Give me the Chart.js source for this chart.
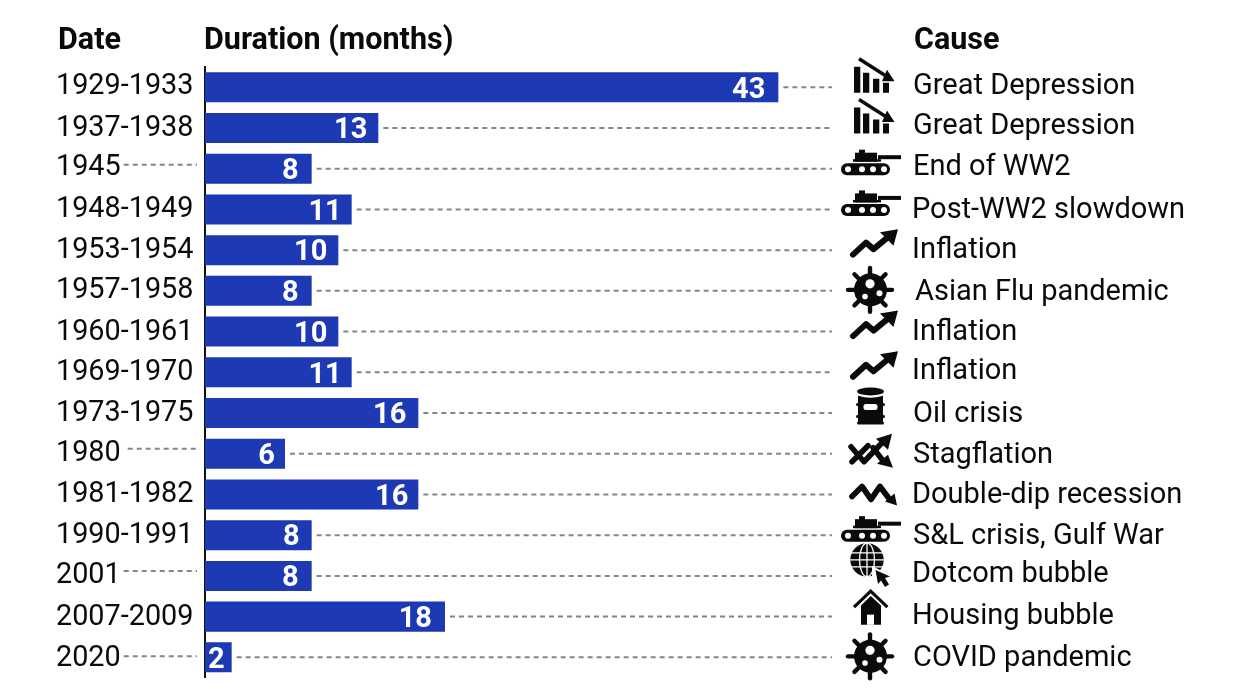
<!DOCTYPE html>
<html><head><meta charset="utf-8">
<style>html,body{margin:0;padding:0;background:#fff}canvas{display:block}</style>
<script src="https://cdn.jsdelivr.net/npm/chart.js@4"></script>
</head><body><canvas id="c" width="1245" height="700"></canvas>
<script>
const dates=["1929-1933","1937-1938","1945","1948-1949","1953-1954","1957-1958","1960-1961","1969-1970","1973-1975","1980","1981-1982","1990-1991","2001","2007-2009","2020"];
const durations=[43,13,8,11,10,8,10,11,16,6,16,8,8,18,2];
const causes=["Great Depression","Great Depression","End of WW2","Post-WW2 slowdown","Inflation","Asian Flu pandemic","Inflation","Inflation","Oil crisis","Stagflation","Double-dip recession","S&L crisis, Gulf War","Dotcom bubble","Housing bubble","COVID pandemic"];
const icons=["bars","bars","tank","tank","trend","virus","trend","trend","barrel","stag","dip","tank","globe","house","virus"];
// small per-row text nudges, in px relative to the row centre
const dateNudge=[0,1,-1,0,1,0,1,1,1,0,0,1,0,1,1];
const causeNudge=[-1,-1,-1,1,1,2,1,-1,2,2,1,2,-1,0,1];
const causeShift=[0,0,0,-1,-1,2,-1,-1,0,0,-1,0,-1,-1,0];
const valueInset=[13,11,13,10,11,13,11,10,12,10,10,12,13,13,7];
// rows whose short date carries its own dashed leader: row -> [gap after the text, px from row centre]
const dateLeaders={2:[3,-4],9:[7,-5],12:[3,-5],14:[3,-1]};

const FONT='Roboto, sans-serif', INK='#0a0a0a', BLUE='#1d39b4', DASH='#858585';

function poly(c,pts,close){c.beginPath();pts.forEach((p,i)=>i?c.lineTo(p[0],p[1]):c.moveTo(p[0],p[1]));if(close)c.closePath();}
function line(c,pts,w){poly(c,pts);c.lineWidth=w;c.lineCap='round';c.lineJoin='round';c.stroke();}
function tri(c,pts){poly(c,pts,true);c.fill();}
function rr(c,x,y,w,h,r){c.beginPath();c.roundRect(x,y,w,h,r);c.fill();}
function disc(c,x,y,r){c.beginPath();c.arc(x,y,r,0,Math.PI*2);c.fill();}
// icons are drawn around (0,0) = (icon column, row centre)
const glyphs={
 bars(c){
  c.fillRect(-16,-20.5,6.3,26);c.fillRect(-7,-14.5,6.3,20);c.fillRect(3,-8.5,6.3,14);c.fillRect(13,-4.5,6,10);
  c.lineCap='butt';c.lineWidth=3.4;poly(c,[[-11,-28.5],[18,-10]]);c.stroke();
  tri(c,[[24.5,-6],[17,-17.5],[12,-6]]);
 },
 tank(c){
  rr(c,-29,-5.5,49,12,6);
  c.fillRect(-15,-16,22,9);c.fillRect(-11,-19,6,4);c.fillRect(-17,-9.5,28,2.5);c.fillRect(8,-13.5,23,4);
  c.fillStyle='#fff';[-22,-8,3,14].forEach(x=>disc(c,x,.5,3));c.fillStyle=INK;
 },
 trend(c){
  line(c,[[-17,4.5],[-4,-7.5],[3.5,-1],[18,-13]],6);
  tri(c,[[28,-21],[10,-18],[23.5,-4.5]]);
 },
 virus(c){
  const cy=-1;c.lineCap='round';c.lineWidth=4.4;
  for(let k=0;k<8;k++){const a=k*Math.PI/4;c.beginPath();c.moveTo(Math.cos(a)*14,cy+Math.sin(a)*14);c.lineTo(Math.cos(a)*22,cy+Math.sin(a)*22);c.stroke();}
  disc(c,.5,cy,16.5);
  c.fillStyle='#fff';disc(c,0,cy-6,4.6);disc(c,-5,cy+6.7,2.8);disc(c,9.5,cy+3.3,3);c.fillStyle=INK;
 },
 barrel(c){
  rr(c,-12,-19,25,30,2);rr(c,-14,-10,29,3,1.5);rr(c,-14,2,29,3,1.5);rr(c,-13,8.5,27,3,1.5);
  c.fillStyle='#fff';c.beginPath();c.ellipse(.5,-21.5,16,6.2,0,0,Math.PI*2);c.fill();
  rr(c,-6.5,-9,14,6,2.5);c.fillStyle=INK;
  c.beginPath();c.ellipse(.5,-21.5,13.5,3.9,0,0,Math.PI*2);c.fill();
 },
 stag(c){
  line(c,[[-18,8],[-2,-8]],5.5);
  line(c,[[-19,-7],[-6,8],[13,-12]],5.5);
  tri(c,[[22,-20],[6,-15],[18,-4]]);
  line(c,[[3,-6],[13,7]],5.5);
  tri(c,[[23,14],[18,1],[7,10]]);
 },
 dip(c){
  line(c,[[-18,2],[-8,-8],[1,5],[10,-8],[19,4]],5.8);
  tri(c,[[27,11],[24.5,-1],[15,7]]);
 },
 globe(c){
  const x=-3,y=-16;
  disc(c,x,y,16.7);
  c.strokeStyle='#fff';c.lineWidth=1.3;
  c.beginPath();c.ellipse(x,y,7.5,16.7,0,0,Math.PI*2);c.moveTo(x,y-16.7);c.lineTo(x,y+16.7);
  [-7,0,7].forEach(d=>{c.moveTo(x-17,y+d);c.lineTo(x+17,y+d);});c.stroke();
  c.fillStyle='#fff';
  tri(c,[[2,-10],[2,13],[8,7],[13,14],[22,10],[17,3],[24,1]]);
  c.fillStyle=INK;c.strokeStyle=INK;
  tri(c,[[5.5,-6],[8,8],[11,4.5],[15,11],[19,8.5],[15,2],[20,0.5]]);
 },
 house(c){
  c.lineCap='butt';c.lineJoin='miter';c.lineWidth=3.2;
  poly(c,[[-16,-9.5],[.7,-25.5],[17.4,-9.5]]);c.stroke();
  tri(c,[[.7,-20.5],[-9,-11],[-9,8.2],[11,8.2],[11,-11]]);
  c.fillStyle='#fff';c.fillRect(-3,-2,7,10.2);c.fillStyle=INK;
 }
};

const rowOverlay={
 id:'rowOverlay',
 afterDatasetsDraw(ch){
  const c=ch.ctx,xS=ch.scales.x,yS=ch.scales.y;
  c.save();
  c.textBaseline='middle';c.textAlign='left';
  c.font='bold 30.5px '+FONT;c.fillStyle=INK;
  c.fillText('Date',58,41);c.fillText('Duration (months)',204,41);c.fillText('Cause',914,41);
  durations.forEach((v,i)=>{
   const y=yS.getPixelForValue(i),end=xS.getPixelForValue(v);
   c.strokeStyle=DASH;c.lineWidth=2;c.setLineDash([5,4]);c.lineCap='butt';
   c.beginPath();c.moveTo(end+5,y);c.lineTo(832,y);c.stroke();
   c.setLineDash([]);c.font='28.8px '+FONT;c.fillStyle=INK;c.textAlign='left';
   c.fillText(dates[i],56,y+dateNudge[i]);
   const lead=dateLeaders[i];
   if(lead){const w=c.measureText(dates[i]).width;c.setLineDash([5,4]);c.beginPath();c.moveTo(56+w+lead[0],y+lead[1]);c.lineTo(197,y+lead[1]);c.stroke();c.setLineDash([]);}
   c.font='29px '+FONT;
   c.fillText(causes[i],913+causeShift[i],y+causeNudge[i]);
   c.font='bold 29px '+FONT;c.fillStyle='#fff';c.textAlign='right';
   c.fillText(String(v),end-valueInset[i],y+3);
   c.save();c.translate(870,y);c.fillStyle=INK;c.strokeStyle=INK;glyphs[icons[i]](c);c.restore();
  });
  c.restore();
 }
};

new Chart(document.getElementById('c'),{
 type:'bar',
 data:{labels:dates,datasets:[{data:durations,backgroundColor:BLUE,borderWidth:0,barPercentage:0.737,categoryPercentage:1}]},
 options:{
  indexAxis:'y',responsive:false,animation:false,devicePixelRatio:1,
  layout:{padding:{left:205,right:240,top:66.9,bottom:22.3}},
  plugins:{legend:{display:false},tooltip:{enabled:false}},
  scales:{
   x:{display:false,min:0,max:60},
   y:{offset:true,grid:{display:false,drawTicks:false},ticks:{display:false},border:{display:true,color:'#111',width:2}}
  }
 },
 plugins:[rowOverlay]
});
</script></body></html>
